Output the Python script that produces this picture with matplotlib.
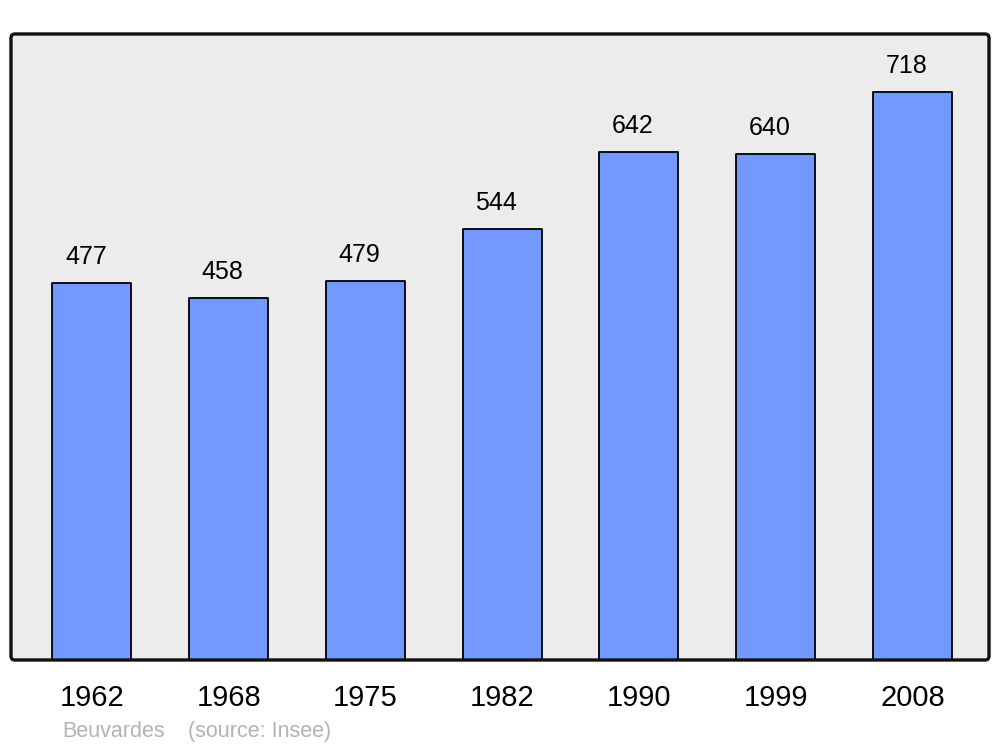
import matplotlib
matplotlib.use("Agg")
import matplotlib.pyplot as plt
from matplotlib.patches import FancyBboxPatch

years = ["1962", "1968", "1975", "1982", "1990", "1999", "2008"]
population = [477, 458, 479, 544, 642, 640, 718]
town = "Beuvardes"
source = "(source: Insee)"

plt.rcParams['font.family'] = ['Liberation Sans', 'DejaVu Sans']

fig = plt.figure(figsize=(10, 7.47), dpi=100)
ax = fig.add_axes([0.011, 1 - 660 / 747, 0.978, 626 / 747])
ax.set_facecolor('#ececec')

x = list(range(len(years)))
bars = ax.bar(x, population, width=0.578, color='#7399ff', edgecolor='black',
              linewidth=1.3, zorder=2)
for b in bars:
    b.set_joinstyle('round')

for xi, v in zip(x, population):
    ax.annotate(str(v), (xi, v), xytext=(-6, 26), textcoords='offset pixels',
                ha='center', va='center', fontsize=18, color='black')

ax.set_xlim(-0.592, 6.56)
ax.set_ylim(0, 791)
ax.set_yticks([])
ax.set_xticks(x)
ax.set_xticklabels(years, fontsize=21)
ax.tick_params(axis='x', length=0, pad=17)
for s in ax.spines.values():
    s.set_visible(False)

frame = FancyBboxPatch((0, 0), 1, 1, boxstyle="round,pad=0,rounding_size=0.004",
                       mutation_aspect=978 / 626, transform=ax.transAxes,
                       facecolor='none', edgecolor='#111111', linewidth=2.4,
                       clip_on=False, zorder=5)
ax.add_patch(frame)

fig.text(0.062, 1 - 737 / 747, town, fontsize=15.5, color='#b3b3b3', va='baseline', ha='left')
fig.text(0.188, 1 - 737 / 747, source, fontsize=15.5, color='#b3b3b3', va='baseline', ha='left')

fig.savefig('out.png', dpi=100, facecolor='white')
